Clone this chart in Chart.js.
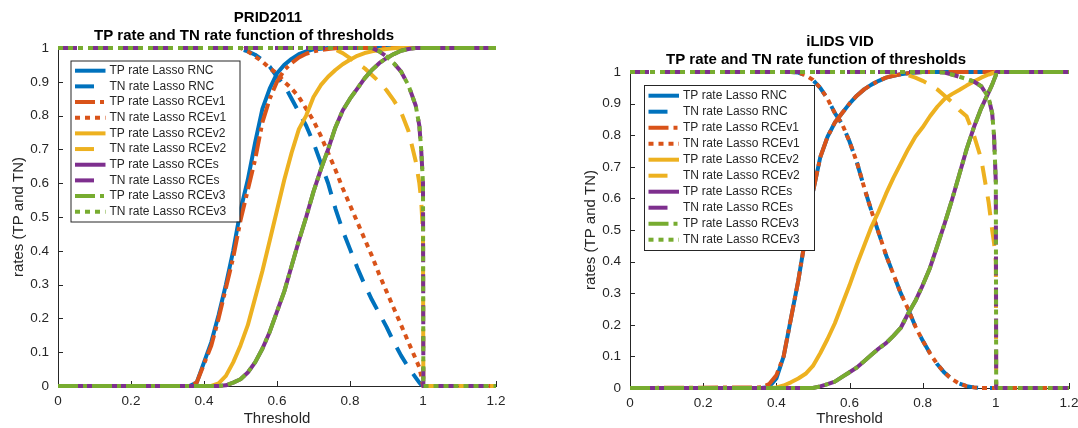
<!DOCTYPE html>
<html><head><meta charset="utf-8">
<script src="https://cdn.jsdelivr.net/npm/chart.js@4.4.1/dist/chart.umd.min.js"></script>
<style>
html,body{margin:0;padding:0;background:#fff;overflow:hidden;width:1078px;height:428px;position:relative;}
#c1{position:absolute;left:0;top:0;}
#c2{position:absolute;left:572px;top:0;}
</style></head><body>
<canvas id="c1" width="572" height="428"></canvas>
<canvas id="c2" width="520" height="428"></canvas>
<script>
// ---------- DATA ----------
const thresholds = [0,
  0.36,0.38,0.40,0.42,0.44,0.46,0.48,0.50,
  0.52,0.54,0.56,0.58,0.60,0.62,0.64,0.66,
  0.68,0.70,0.72,0.74,0.76,0.78,0.80,0.82,
  0.84,0.86,0.88,0.90,0.92,0.94,0.96,0.98,
  0.99,0.995,1.0,1.001,1.2];
const xTicks = [0,0.2,0.4,0.6,0.8,1,1.2];
const yTicks = [0,0.1,0.2,0.3,0.4,0.5,0.6,0.7,0.8,0.9,1];
const seriesLabels = ['TP rate Lasso RNC','TN rate Lasso RNC','TP rate Lasso RCEv1','TN rate Lasso RCEv1',
  'TP rate Lasso RCEv2','TN rate Lasso RCEv2','TP rate Lasso RCEs','TN rate Lasso RCEs',
  'TP rate Lasso RCEv3','TN rate Lasso RCEv3'];
const chartTitles = [['PRID2011','TP rate and TN rate function of thresholds'],
  ['iLIDS VID','TP rate and TN rate function of thresholds']];

// PRID2011
const pridTpRNC = [0,
  0,0.01,0.07,0.13,0.21,0.30,0.40,0.52,
  0.61,0.72,0.82,0.88,0.925,0.95,0.968,0.982,
  0.99,0.996,0.998,1,1,1,1,1,
  1,1,1,1,1,1,1,1,
  1,1,1,1,1];
const pridTnRNC = [1,
  1,1,1,1,1,1,1,0.997,
  0.99,0.98,0.965,0.945,0.915,0.89,0.85,0.81,
  0.77,0.72,0.66,0.60,0.525,0.46,0.405,0.35,
  0.30,0.255,0.215,0.175,0.13,0.09,0.055,0.025,
  0.01,0.004,0,0,0];
const pridTpRCEv1 = [0,
  0,0.01,0.065,0.12,0.20,0.29,0.38,0.49,
  0.58,0.67,0.78,0.85,0.90,0.935,0.955,0.972,
  0.983,0.99,0.994,0.997,0.999,1,1,1,
  1,1,1,1,1,1,1,1,
  1,1,1,1,1];
const pridTnRCEv1 = [1,
  1,1,1,1,1,1,1,1,
  0.99,0.975,0.96,0.94,0.925,0.90,0.88,0.855,
  0.82,0.785,0.74,0.69,0.64,0.585,0.535,0.485,
  0.435,0.385,0.33,0.28,0.23,0.18,0.13,0.08,
  0.055,0.03,0,0,0];
const pridTpRCEv2 = [0,
  0,0,0,0,0.008,0.03,0.07,0.12,
  0.18,0.26,0.34,0.43,0.52,0.61,0.69,0.76,
  0.80,0.855,0.89,0.915,0.935,0.952,0.965,0.977,
  0.985,0.99,0.994,0.997,0.999,1,1,1,
  1,1,1,1,1];
const pridTnRCEv2 = [1,
  1,1,1,1,1,1,1,1,
  1,1,1,1,1,1,1,1,
  1,1,1,1,0.995,0.985,0.97,0.955,
  0.94,0.92,0.90,0.875,0.845,0.81,0.755,0.665,
  0.60,0.55,0.45,0,0];
const pridTpRCEs = [0,
  0,0,0,0,0,0.002,0.01,0.02,
  0.04,0.07,0.11,0.16,0.22,0.28,0.355,0.43,
  0.50,0.575,0.64,0.70,0.765,0.815,0.85,0.88,
  0.91,0.935,0.955,0.97,0.982,0.992,0.997,1,
  1,1,1,1,1];
const pridTnRCEs = [1,
  1,1,1,1,1,1,1,1,
  1,1,1,1,1,1,1,1,
  1,1,1,1,1,1,1,1,
  1,1,0.99,0.975,0.955,0.93,0.89,0.83,
  0.77,0.70,0.60,0,0];
const pridTpRCEv3 = [0,
  0,0,0,0,0,0.002,0.01,0.02,
  0.04,0.07,0.11,0.16,0.22,0.28,0.355,0.43,
  0.50,0.575,0.64,0.70,0.765,0.815,0.85,0.88,
  0.91,0.935,0.955,0.97,0.982,0.992,0.997,1,
  1,1,1,1,1];
const pridTnRCEv3 = [1,
  1,1,1,1,1,1,1,1,
  1,1,1,1,1,1,1,1,
  1,1,1,1,1,1,1,1,
  1,1,0.99,0.975,0.955,0.93,0.89,0.83,
  0.77,0.70,0.60,0,0];

// iLIDS VID
const ilidsTpRNC = [0,
  0,0.003,0.03,0.10,0.22,0.34,0.48,0.62,
  0.73,0.795,0.84,0.87,0.90,0.925,0.945,0.96,
  0.972,0.982,0.988,0.993,0.996,0.998,1,1,
  1,1,1,1,1,1,1,1,
  1,1,1,1,1];
const ilidsTnRNC = [1,
  1,1,1,1,1,0.998,0.99,0.975,
  0.95,0.915,0.87,0.835,0.78,0.715,0.635,0.56,
  0.49,0.42,0.36,0.30,0.25,0.195,0.15,0.11,
  0.075,0.048,0.028,0.014,0.006,0.002,0,0,
  0,0,0,0,0];
const ilidsTpRCEv1 = [0,
  0.002,0.012,0.04,0.10,0.22,0.34,0.48,0.62,
  0.73,0.795,0.84,0.87,0.90,0.925,0.945,0.96,
  0.972,0.982,0.988,0.993,0.996,0.998,1,1,
  1,1,1,1,1,1,1,1,
  1,1,1,1,1];
const ilidsTnRCEv1 = [1,
  1,1,1,1,1,0.998,0.99,0.975,
  0.95,0.915,0.87,0.835,0.78,0.715,0.635,0.56,
  0.49,0.42,0.36,0.30,0.25,0.195,0.15,0.11,
  0.075,0.048,0.028,0.014,0.006,0.002,0,0,
  0,0,0,0,0];
const ilidsTpRCEv2 = [0,
  0,0,0.002,0.008,0.018,0.03,0.045,0.07,
  0.11,0.155,0.205,0.265,0.325,0.39,0.45,0.51,
  0.56,0.615,0.665,0.71,0.755,0.795,0.825,0.86,
  0.89,0.915,0.93,0.943,0.957,0.97,0.982,0.992,
  0.996,0.998,1,1,1];
const ilidsTnRCEv2 = [1,
  1,1,1,1,1,1,1,1,
  1,1,1,1,1,1,1,1,
  1,1,0.998,0.995,0.99,0.982,0.972,0.96,
  0.945,0.925,0.905,0.88,0.86,0.80,0.725,0.59,
  0.50,0.46,0.40,0,0];
const ilidsTpRCEs = [0,
  0,0,0,0,0,0,0,0,
  0.005,0.012,0.02,0.035,0.05,0.065,0.085,0.105,
  0.125,0.142,0.165,0.19,0.235,0.275,0.325,0.38,
  0.45,0.52,0.595,0.675,0.755,0.825,0.885,0.935,
  0.96,0.975,0.99,1,1];
const ilidsTnRCEs = [1,
  1,1,1,1,1,1,1,1,
  1,1,1,1,1,1,1,1,
  1,1,1,1,1,1,1,1,
  1,0.998,0.992,0.985,0.978,0.97,0.955,0.92,
  0.87,0.80,0.65,0,0];
const ilidsTpRCEv3 = [0,
  0,0,0,0,0,0,0,0,
  0.005,0.012,0.02,0.035,0.05,0.065,0.085,0.105,
  0.125,0.142,0.165,0.19,0.235,0.275,0.325,0.38,
  0.45,0.52,0.595,0.675,0.755,0.825,0.885,0.935,
  0.96,0.975,0.99,1,1];
const ilidsTnRCEv3 = [1,
  1,1,1,1,1,1,1,1,
  1,1,1,1,1,1,1,1,
  1,1,1,1,1,1,1,1,
  1,0.998,0.992,0.985,0.978,0.97,0.955,0.92,
  0.87,0.80,0.65,0,0];

// ---------- STYLE ----------
const FONT = "'Liberation Sans', Arial, Helvetica, sans-serif";
const AX = '#262626';
const colors = ['#0072BD','#0072BD','#D95319','#D95319','#EDB120','#EDB120','#7E2F8E','#7E2F8E','#77AC30','#77AC30'];
const SOLID = [], DASH = [19,12], DOT = [5,5], DASHDOT = [20,5,4,5];
const dashes = [SOLID, DASH, DASHDOT, DOT, SOLID, DASH, SOLID, DASH, DASHDOT, DOT];

Chart.defaults.font.family = FONT;

function pts(vals){ return thresholds.map((t,i)=>({x:t, y:vals[i]})); }
function fmt(v){ return String(Math.round(v*10)/10); }

const decor = {
  id: 'decor',
  beforeDatasetsDraw(chart, args, o){
    const ctx = chart.ctx, xs = chart.scales.x, ys = chart.scales.y, a = chart.chartArea;
    ctx.save(); ctx.strokeStyle = AX; ctx.lineWidth = 1; ctx.beginPath();
    xTicks.forEach(v=>{ const p = Math.round(xs.getPixelForValue(v))+0.5; ctx.moveTo(p, a.bottom); ctx.lineTo(p, a.bottom-5); });
    yTicks.forEach(v=>{ const p = Math.round(ys.getPixelForValue(v))+0.5; ctx.moveTo(a.left, p); ctx.lineTo(a.left+5, p); });
    ctx.stroke(); ctx.restore();
  },
  afterDatasetsDraw(chart, args, o){
    const ctx = chart.ctx, L = o.legend;
    ctx.save();
    ctx.fillStyle = '#fff'; ctx.fillRect(L.x, L.y, L.w, L.h);
    ctx.strokeStyle = AX; ctx.lineWidth = 1; ctx.strokeRect(L.x+0.5, L.y+0.5, L.w, L.h);
    chart.data.datasets.forEach((ds,i)=>{
      const y = L.row0 + i*L.step;
      ctx.setLineDash(ds.borderDash || []);
      ctx.strokeStyle = ds.borderColor; ctx.lineWidth = ds.borderWidth; ctx.lineCap = 'butt';
      ctx.beginPath(); ctx.moveTo(L.x+4.5, y); ctx.lineTo(L.x+35, y); ctx.stroke();
      ctx.setLineDash([]);
      ctx.fillStyle = AX; ctx.font = '12px ' + FONT; ctx.textAlign = 'left'; ctx.textBaseline = 'middle';
      ctx.fillText(ds.label, L.x+39, y);
    });
    ctx.restore();
  },
  afterDraw(chart, args, o){
    const ctx = chart.ctx;
    ctx.save(); ctx.fillStyle = '#000'; ctx.font = 'bold 15px ' + FONT;
    ctx.textAlign = 'center'; ctx.textBaseline = 'middle';
    ctx.fillText(o.title[0], 268, o.t1);
    ctx.fillText(o.title[1], 244, o.t2);
    ctx.restore();
  }
};

function makeChart(id, seriesList, cfg){
  const datasets = seriesList.map((vals,i)=>({
    label: seriesLabels[i], data: pts(vals), borderColor: colors[i], backgroundColor: colors[i],
    borderWidth: 4, borderDash: dashes[i], borderCapStyle: 'butt', borderJoinStyle: 'round',
    pointRadius: 0, tension: 0, fill: false, order: -i, clip: 6
  }));
  return new Chart(document.getElementById(id), {
    type: 'line',
    data: { datasets },
    plugins: [decor],
    options: {
      responsive: false, animation: false, devicePixelRatio: 1,
      layout: { padding: { left: 0, top: cfg.top, right: cfg.right, bottom: 0 } },
      plugins: {
        legend: { display: false }, title: { display: false }, tooltip: { enabled: false },
        decor: { legend: cfg.legend, title: cfg.title, t1: cfg.t1, t2: cfg.t2 }
      },
      scales: {
        x: {
          type: 'linear', min: 0, max: 1.2,
          afterBuildTicks: s => { s.ticks = xTicks.map(v=>({value:v})); },
          afterFit: s => { s.height = 428 - cfg.bottom; },
          ticks: { callback: v => fmt(v), font: { size: 13.5 }, color: AX, padding: 7, maxRotation: 0, autoSkip: false },
          grid: { display: false, drawTicks: false },
          border: { display: true, color: AX, width: 1 },
          title: { display: true, text: 'Threshold', font: { size: 15 }, color: AX, padding: { top: 0, bottom: 0 } }
        },
        y: {
          type: 'linear', min: 0, max: 1,
          afterBuildTicks: s => { s.ticks = yTicks.map(v=>({value:v})); },
          afterFit: s => { s.width = 58; },
          ticks: { callback: v => fmt(v), font: { size: 13.5 }, color: AX, padding: 9, autoSkip: false },
          grid: { display: false, drawTicks: false },
          border: { display: true, color: AX, width: 1 },
          title: { display: true, text: 'rates (TP and TN)', font: { size: 15 }, color: AX, padding: { top: 10, bottom: 0 } }
        }
      }
    }
  });
}

makeChart('c1',
  [pridTpRNC, pridTnRNC, pridTpRCEv1, pridTnRCEv1, pridTpRCEv2, pridTnRCEv2, pridTpRCEs, pridTnRCEs, pridTpRCEv3, pridTnRCEv3],
  { top: 48, bottom: 386, right: 76, t1: 18, t2: 36, title: chartTitles[0],
    legend: { x: 70.5, y: 60.5, w: 169, h: 161, row0: 70.7, step: 15.67 } });
makeChart('c2',
  [ilidsTpRNC, ilidsTnRNC, ilidsTpRCEv1, ilidsTnRCEv1, ilidsTpRCEv2, ilidsTnRCEv2, ilidsTpRCEs, ilidsTnRCEs, ilidsTpRCEv3, ilidsTnRCEv3],
  { top: 72, bottom: 388, right: 23, t1: 42, t2: 59.5, title: chartTitles[1],
    legend: { x: 72, y: 85, w: 170, h: 165, row0: 95.7, step: 16 } });
</script></body></html>
